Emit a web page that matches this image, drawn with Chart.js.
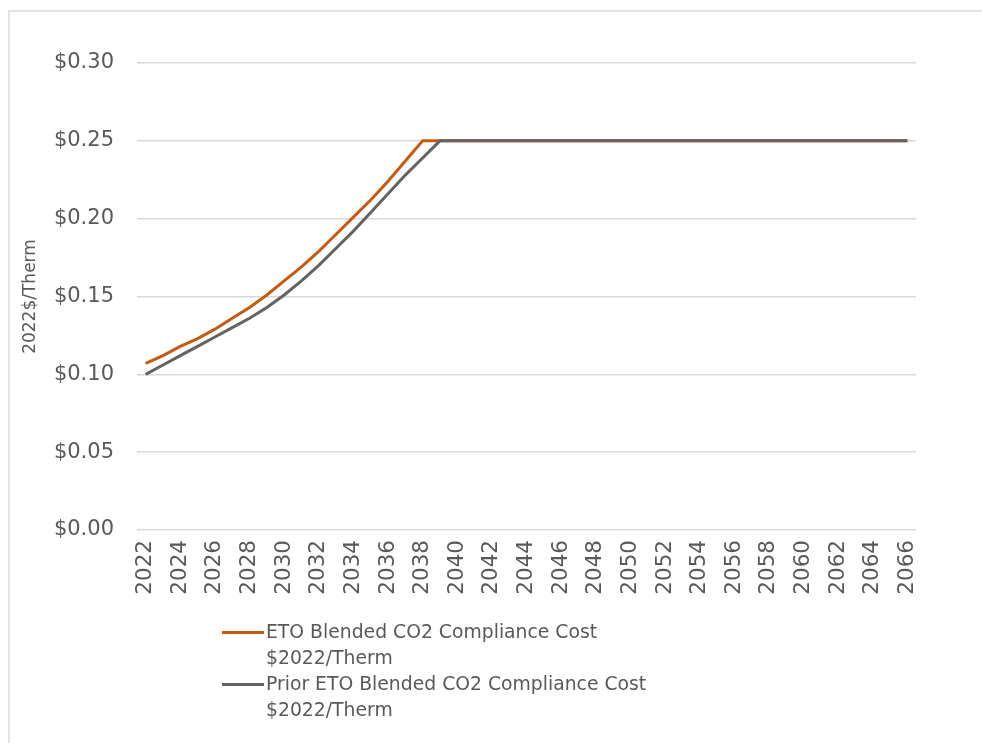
<!DOCTYPE html>
<html>
<head>
<meta charset="utf-8">
<script src="https://cdn.jsdelivr.net/npm/chart.js@4/dist/chart.umd.min.js"></script>
<style>
  html, body { margin: 0; padding: 0; background: #ffffff; }
  #wrap { position: relative; width: 982px; height: 743px; overflow: hidden; }
  #frame { position: absolute; left: 8px; top: 10px; right: -4px; bottom: -4px;
           border-left: 2px solid #e4e4e4; border-top: 2px solid #e4e4e4; }
  #chart { position: absolute; left: 0; top: 0; }
  #legend { position: absolute; left: 222px; top: 619px; font-family: "DejaVu Sans", sans-serif;
            font-size: 18.8px; line-height: 26px; color: #595959; }
  .item { position: relative; padding-left: 44px; }
  .swatch { position: absolute; left: 0; top: 12px; width: 42px; height: 3px; }
</style>
</head>
<body>
<div id="wrap">
  <div id="frame"></div>
  <canvas id="chart" width="982" height="743"></canvas>
  <div id="legend"></div>
</div>
<script>
// Years 2022 - 2066
const years = [];
for (let y = 2022; y <= 2066; y++) years.push(String(y));

// $2022 per therm, current ETO blend
const etoCost = [
  0.107, 0.112, 0.118, 0.123, 0.129, 0.136, 0.143, 0.151, 0.160, 0.169,
  0.179, 0.190, 0.201, 0.212, 0.224, 0.237, 0.250, 0.250, 0.250, 0.250,
  0.250, 0.250, 0.250, 0.250, 0.250, 0.250, 0.250, 0.250, 0.250, 0.250,
  0.250, 0.250, 0.250, 0.250, 0.250, 0.250, 0.250, 0.250, 0.250, 0.250,
  0.250, 0.250, 0.250, 0.250, 0.250
];

// $2022 per therm, prior ETO blend
const priorEtoCost = [
  0.100, 0.106, 0.112, 0.118, 0.124, 0.130, 0.136, 0.143, 0.151, 0.160,
  0.170, 0.181, 0.192, 0.204, 0.216, 0.228, 0.239, 0.250, 0.250, 0.250,
  0.250, 0.250, 0.250, 0.250, 0.250, 0.250, 0.250, 0.250, 0.250, 0.250,
  0.250, 0.250, 0.250, 0.250, 0.250, 0.250, 0.250, 0.250, 0.250, 0.250,
  0.250, 0.250, 0.250, 0.250, 0.250
];

const seriesNames = [
  ["ETO Blended CO2 Compliance Cost", "$2022/Therm"],
  ["Prior ETO Blended CO2 Compliance Cost", "$2022/Therm"]
];
const seriesColors = ["#C55A11", "#636363"];
const yTitle = "2022$/Therm";

const textColor = "#595959";
const fontFamily = "'DejaVu Sans', sans-serif";

new Chart(document.getElementById("chart"), {
  type: "line",
  data: {
    labels: years,
    datasets: [
      { label: seriesNames[0].join(" "), data: etoCost, borderColor: seriesColors[0],
        backgroundColor: seriesColors[0], borderWidth: 3, pointRadius: 0, tension: 0, order: 2 },
      { label: seriesNames[1].join(" "), data: priorEtoCost, borderColor: seriesColors[1],
        backgroundColor: seriesColors[1], borderWidth: 3, pointRadius: 0, tension: 0, order: 1 }
    ]
  },
  options: {
    responsive: false,
    devicePixelRatio: 1,
    animation: false,
    layout: { padding: { left: 20, right: 66, top: 63, bottom: 0 } },
    plugins: { legend: { display: false }, tooltip: { enabled: false } },
    scales: {
      x: {
        offset: true,
        grid: { display: false, drawTicks: false },
        border: { display: false },
        ticks: { minRotation: 90, maxRotation: 90, autoSkip: false, padding: 10,
                 color: textColor, font: { family: fontFamily, size: 21.5 },
                 callback: function (v, i) { return i % 2 === 0 ? years[i] : null; } },
        afterFit: function (s) { s.height = 213; }
      },
      y: {
        min: 0, max: 0.3,
        grid: { color: "#d9d9d9", lineWidth: 1.5, drawTicks: false },
        border: { display: false },
        ticks: { stepSize: 0.05, padding: 23, color: textColor,
                 font: { family: fontFamily, size: 21 },
                 callback: function (v) { return "$" + v.toFixed(2); } },
        title: { display: true, text: yTitle, color: textColor,
                 font: { family: fontFamily, size: 17 }, padding: { top: 0, bottom: 4 } },
        afterFit: function (s) { s.width = 117; }
      }
    }
  }
});

// Legend below the plot
const legend = document.getElementById("legend");
seriesNames.forEach(function (lines, i) {
  const item = document.createElement("div");
  item.className = "item";
  const sw = document.createElement("div");
  sw.className = "swatch";
  sw.style.background = seriesColors[i];
  item.appendChild(sw);
  lines.forEach(function (t) {
    const row = document.createElement("div");
    row.textContent = t;
    item.appendChild(row);
  });
  legend.appendChild(item);
});
</script>
</body>
</html>
